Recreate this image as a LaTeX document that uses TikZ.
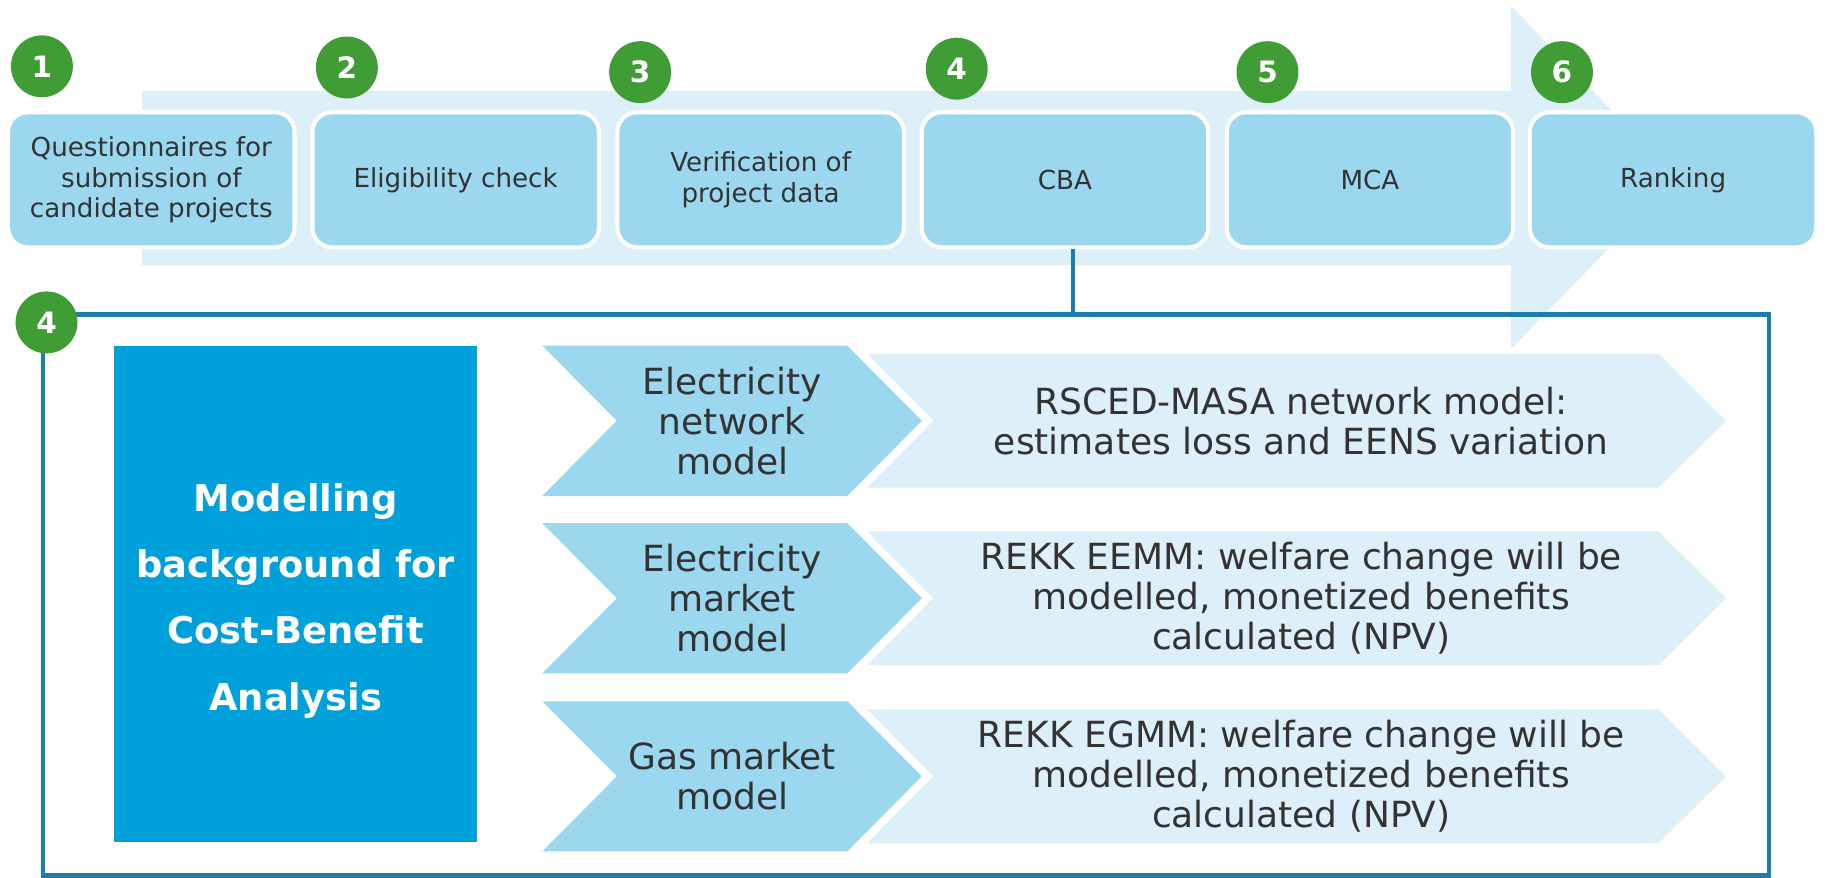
\documentclass[tikz,border=0pt]{standalone}
\usepackage{fontspec}
\setmainfont{DejaVu Sans}
\usetikzlibrary{positioning}
\definecolor{bandblue}{RGB}{221,239,249}
\definecolor{boxblue}{RGB}{155,215,239}
\definecolor{deepblue}{RGB}{0,160,218}
\definecolor{frameblue}{RGB}{28,126,172}
\definecolor{stepgreen}{RGB}{64,156,53}
\definecolor{txtgray}{RGB}{51,51,51}

\begin{document}
\begin{tikzpicture}[x=0.025cm,y=-0.025cm,
  stagebox/.style={draw=white,line width=2.5pt,fill=boxblue,rounded corners=12pt,minimum width=6.15cm,minimum height=2.9cm,align=center,text=txtgray,font=\fontsize{16}{18.5}\selectfont},
  numdot/.style={circle,fill=stepgreen,minimum size=1.33cm,inner sep=0pt,text=white,font=\fontsize{18}{18}\selectfont\bfseries},
  frameline/.style={draw=frameblue,line width=2.8pt},
  modtext/.style={align=center,text=txtgray,font=\fontsize{22}{24.5}\selectfont},
  desctext/.style={align=center,text=txtgray,font=\fontsize{22}{24.3}\selectfont}]
  \useasboundingbox (0,0) rectangle (1568,754);

  % process band with arrow head
  \fill[bandblue] (122,78) -- (1298,78) -- (1298,5) -- (1441,153) -- (1298,300) -- (1298,228) -- (122,228) -- cycle;

  % frame of step 4
  \coordinate (ftl) at (37,270);
  \coordinate (fbr) at (1520,752);
  \coordinate (ftop) at (922,270);
  \draw[frameline] (ftl) rectangle (fbr);

  % stages
  \foreach \i/\x/\t in {1/130/{Questionnaires for\\submission of\\candidate projects}, 2/391.5/{Eligibility check}, 3/653.5/{Verification of\\project data}, 4/915/CBA, 5/1177/MCA, 6/1437.5/Ranking} {
    \node[stagebox] (s\i) at (\x,154.5) {\t};
  }
  \foreach \i/\x/\y in {1/36/57, 2/298/58, 3/550/62, 4/822/59, 5/1089/62, 6/1342/62} {
    \node[numdot] (n\i) at (\x,\y) {\i};
  }
  \draw[frameline] (s4.south -| ftop) -- (ftop);
  \node[numdot] (n4b) at (40,277) {4};

  \node[fill=deepblue,minimum width=7.8cm,minimum height=10.65cm] (mbg) at (254,510) {};
  \node[text=white,align=center,font=\fontsize{22.5}{40.5}\selectfont\bfseries] (mbgtext) at (254,516) {Modelling\\background for\\Cost-Benefit\\Analysis};

  % models
  \foreach \r/\c/\m/\d in {1/361.5/{Electricity\\network\\model}/{RSCED-MASA network model:\\estimates loss and EENS variation}, 2/514/{Electricity\\market\\model}/{REKK EEMM: welfare change will be\\modelled, monetized benefits\\calculated (NPV)}, 3/667/{Gas market\\model}/{REKK EGMM: welfare change will be\\modelled, monetized benefits\\calculated (NPV)}} {
    \fill[bandblue] (745,\c-57.5) -- (1425,\c-57.5) -- (1483,\c) -- (1425,\c+57.5) -- (745,\c+57.5) -- (802,\c) -- cycle;
    \fill[boxblue] (466,\c-64.5) -- (728,\c-64.5) -- (792,\c) -- (728,\c+64.5) -- (466,\c+64.5) -- (530,\c) -- cycle;
    \node[modtext] (mod\r) at (629,\c) {\m};
    \node[desctext] (desc\r) at (1118,\c) {\d};
  }
\end{tikzpicture}
\end{document}
